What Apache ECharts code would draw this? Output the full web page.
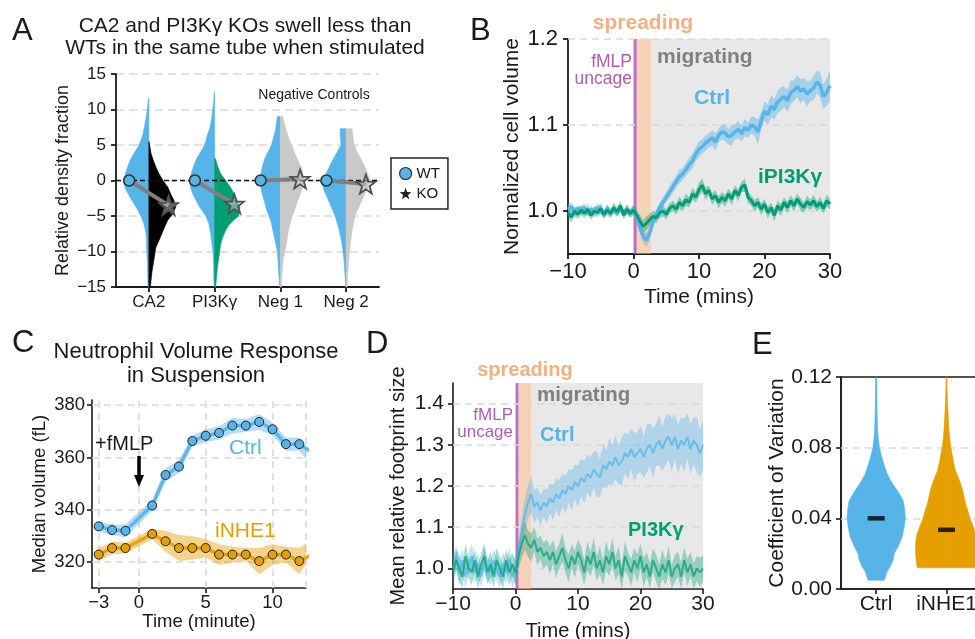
<!DOCTYPE html>
<html><head><meta charset="utf-8">
<script src="https://cdn.jsdelivr.net/npm/echarts@6.0.0/dist/echarts.min.js"></script>
<style>html,body{margin:0;padding:0;background:#fff}#c{width:975px;height:639px}</style>
</head><body><div id="c"></div>
<script>
// ---------------- Panel A data ----------------
const catsA = ['CA2', 'PI3Kγ', 'Neg 1', 'Neg 2'];
const wtMarkY = [0, 0, 0, 0];
const koMarkY = [-3.5, -3.3, 0.2, -0.5];
const ca2WtY = [11.6, 10, 8.9, 7.5, 6.5, 5.5, 4.7, 3.8, 2.8, 2, 1, 0, -1, -1.8, -2.8, -3.7, -5, -6, -7.4, -9, -10.2, -12.5, -15];
const ca2WtD = [0.01, 0.06, 0.10, 0.17, 0.22, 0.31, 0.41, 0.56, 0.70, 0.78, 0.87, 0.93, 0.89, 0.78, 0.63, 0.48, 0.30, 0.19, 0.11, 0.085, 0.074, 0.048, 0.03];
const ca2KoY = [5.5, 4.7, 3.75, 2.8, 1.9, 1, 0, -0.9, -1.9, -2.8, -3.7, -4.7, -5.6, -6.5, -7.5, -8.5, -9.4, -11.2, -13, -15];
const ca2KoD = [0, 0.04, 0.085, 0.17, 0.26, 0.37, 0.52, 0.70, 0.81, 0.93, 1.0, 0.89, 0.70, 0.59, 0.48, 0.37, 0.26, 0.185, 0.11, 0.055];
const pi3WtY = [12.5, 11, 9, 7.5, 6.5, 5.5, 4.7, 3.8, 2.8, 2, 1, 0, -1, -1.9, -2.8, -3.7, -5, -6, -7.5, -10, -12.5, -15];
const pi3WtD = [0.01, 0.04, 0.10, 0.17, 0.26, 0.33, 0.41, 0.56, 0.70, 0.78, 0.87, 0.93, 0.89, 0.81, 0.69, 0.56, 0.33, 0.22, 0.15, 0.063, 0.037, 0.019];
const pi3KoY = [3.2, 3, 2, 1, 0, -1, -2, -3, -3.8, -5, -5.6, -6.3, -7, -8, -9, -10.5, -12, -13.5, -15];
const pi3KoD = [0, 0.04, 0.11, 0.22, 0.41, 0.59, 0.74, 0.85, 0.93, 0.89, 0.70, 0.52, 0.41, 0.30, 0.22, 0.17, 0.11, 0.074, 0.037];
const neg1WtY = [9, 8, 7, 6, 5, 4, 3, 1.5, 0, -1, -2, -3, -4, -5, -6, -7, -8, -9, -10, -11.5, -13, -15];
const neg1WtD = [0.11, 0.15, 0.185, 0.26, 0.33, 0.46, 0.59, 0.70, 0.74, 0.72, 0.67, 0.59, 0.52, 0.43, 0.33, 0.28, 0.22, 0.17, 0.11, 0.085, 0.063, 0.019];
const neg1KoY = [9, 8, 7, 6, 5, 4, 3, 1.5, 0, -1.5, -3, -4, -5, -6, -7, -8, -9, -10, -11, -13, -15];
const neg1KoD = [0.085, 0.15, 0.22, 0.31, 0.41, 0.52, 0.63, 0.81, 0.89, 0.78, 0.63, 0.54, 0.44, 0.37, 0.30, 0.26, 0.22, 0.17, 0.11, 0.063, 0.037];
const neg2WtY = [7.3, 6.5, 5.5, 5, 4, 3, 2.2, 1.5, 0.7, 0, -0.7, -1.5, -3, -4, -5, -6, -7, -8, -9, -11, -13, -15];
const neg2WtD = [0.22, 0.22, 0.20, 0.185, 0.33, 0.48, 0.59, 0.67, 0.78, 0.89, 0.87, 0.81, 0.63, 0.52, 0.41, 0.33, 0.26, 0.20, 0.15, 0.085, 0.048, 0.019];
const neg2KoY = [7.3, 6, 5, 4, 3, 1.5, 0, -1.5, -3, -4, -5, -6, -7, -9, -11, -13, -15];
const neg2KoD = [0.22, 0.26, 0.30, 0.41, 0.56, 0.74, 0.89, 0.74, 0.56, 0.44, 0.33, 0.28, 0.22, 0.15, 0.10, 0.063, 0.037];

// ---------------- Panel B data ----------------
const timeBD = [-10,-9.5,-9,-8.5,-8,-7.5,-7,-6.5,-6,-5.5,-5,-4.5,-4,-3.5,-3,-2.5,-2,-1.5,-1,-0.5,0,0.5,1,1.5,2,2.5,3,3.5,4,4.5,5,5.5,6,6.5,7,7.5,8,8.5,9,9.5,10,10.5,11,11.5,12,12.5,13,13.5,14,14.5,15,15.5,16,16.5,17,17.5,18,18.5,19,19.5,20,20.5,21,21.5,22,22.5,23,23.5,24,24.5,25,25.5,26,26.5,27,27.5,28,28.5,29,29.5,30];
const bCtrl = [1.002,1.005,0.998,1.003,1.000,1.004,0.997,1.002,0.999,1.004,1.001,0.996,1.003,0.998,1.002,0.997,1.003,0.999,1.001,0.998,1.002,
  0.992,0.980,0.970,0.966,0.975,0.988,0.996,1.004,1.010,1.016,1.022,1.028,1.034,1.040,1.043,1.048,1.054,1.058,1.066,1.072,
  1.075,1.079,1.082,1.085,1.080,1.088,1.092,1.091,1.086,1.088,1.092,1.095,1.090,1.097,1.094,1.100,1.098,1.092,1.105,1.116,
  1.112,1.122,1.118,1.127,1.130,1.133,1.128,1.138,1.140,1.145,1.139,1.142,1.136,1.140,1.143,1.150,1.146,1.133,1.138,1.146];
const bCtrlErr = [0.006,0.005,0.005,0.004,0.005,0.005,0.004,0.005,0.004,0.005,0.005,0.004,0.005,0.004,0.005,0.004,0.005,0.004,0.005,0.004,0.005,
  0.005,0.006,0.007,0.008,0.007,0.006,0.006,0.006,0.006,0.006,0.007,0.007,0.007,0.008,0.007,0.008,0.008,0.009,0.008,0.009,
  0.008,0.009,0.008,0.009,0.010,0.008,0.009,0.010,0.009,0.012,0.009,0.010,0.009,0.010,0.009,0.010,0.011,0.014,0.010,0.011,
  0.012,0.013,0.012,0.013,0.014,0.012,0.013,0.014,0.012,0.013,0.014,0.013,0.015,0.012,0.014,0.013,0.015,0.014,0.016,0.018];
const bGreen = [0.998,0.993,1.000,0.996,1.001,0.997,1.002,0.995,1.000,0.998,1.003,0.996,1.001,0.997,1.004,0.999,1.006,0.995,1.002,0.997,1.001,
  0.995,0.988,0.982,0.986,0.990,0.994,0.992,0.998,1.000,0.996,1.003,1.006,1.002,1.010,1.006,1.013,1.010,1.020,1.016,1.025,
  1.030,1.020,1.024,1.014,1.018,1.010,1.016,1.012,1.020,1.014,1.024,1.018,1.028,1.030,1.016,1.012,1.006,1.010,1.002,1.008,
  0.998,1.004,0.995,1.006,1.001,1.010,1.004,1.012,1.006,1.014,1.008,1.004,1.011,1.007,1.012,1.005,1.010,1.003,1.012,1.008];
const bGreenErr = [0.007,0.006,0.006,0.005,0.006,0.005,0.006,0.005,0.006,0.005,0.006,0.005,0.006,0.005,0.006,0.005,0.006,0.005,0.006,0.005,0.006,
  0.006,0.007,0.007,0.008,0.007,0.006,0.006,0.006,0.006,0.006,0.006,0.006,0.006,0.007,0.006,0.007,0.006,0.007,0.006,0.008,
  0.008,0.007,0.006,0.007,0.006,0.007,0.006,0.007,0.006,0.007,0.006,0.007,0.006,0.008,0.007,0.006,0.007,0.006,0.007,0.006,
  0.007,0.006,0.007,0.006,0.007,0.006,0.007,0.006,0.007,0.006,0.007,0.006,0.007,0.006,0.007,0.006,0.007,0.006,0.007,0.006];
const phaseB = [0, 0.5, 2.65, 30];
const bTicksY = [1.0, 1.1, 1.2];

// ---------------- Panel C data ----------------
const cTime = [-3, -2, -1, 1, 2, 3, 4, 5, 6, 7, 8, 9, 10, 11, 12, 13];
const cCtrl = [333.6, 332.2, 331.9, 341.6, 353.3, 356.5, 366.3, 368.3, 369.4, 372.2, 372.2, 373.6, 370.8, 365.1, 365.1, 361.8];
const cCtrlErr = [2.0, 2.0, 2.5, 2.0, 2.5, 2.5, 2.0, 2.5, 2.5, 3.0, 2.5, 3.0, 2.5, 2.5, 2.5, 2.5];
const cNhe = [322.8, 325.3, 325.3, 330.7, 327.9, 325.3, 325.3, 325.3, 322.8, 322.8, 322.8, 320.3, 322.8, 322.8, 320.3, 323.0];
const cNheErr = [2.5, 2.5, 2.0, 2.0, 4.0, 5.0, 4.5, 3.5, 4.0, 3.0, 2.5, 5.0, 4.0, 3.0, 5.0, 4.0];
const cTicksX = [-3, 0, 5, 10];
const cGridX = [-3, 0, 5, 10, 12.5];
const cTicksY = [320, 340, 360, 380];

// ---------------- Panel D data ----------------
const dCtrl = [1.00,1.03,0.99,1.02,0.98,1.01,1.03,0.99,1.01,0.98,1.02,1.00,0.99,1.02,1.00,0.98,1.01,0.99,1.02,0.98,1.00,
  1.04,1.09,1.13,1.16,1.18,1.15,1.16,1.14,1.16,1.15,1.17,1.16,1.18,1.17,1.19,1.18,1.20,1.19,1.21,1.20,
  1.22,1.21,1.23,1.22,1.24,1.23,1.22,1.25,1.24,1.26,1.25,1.27,1.25,1.26,1.28,1.27,1.29,1.27,1.28,1.29,
  1.27,1.29,1.30,1.28,1.30,1.31,1.29,1.31,1.32,1.30,1.32,1.29,1.31,1.30,1.32,1.29,1.31,1.30,1.28,1.30];
const dCtrlErr = [0.030,0.025,0.032,0.028,0.030,0.026,0.031,0.027,0.030,0.025,0.032,0.028,0.030,0.026,0.031,0.027,0.030,0.025,0.032,0.028,0.030,
  0.030,0.035,0.040,0.040,0.045,0.040,0.035,0.038,0.034,0.040,0.036,0.042,0.038,0.044,0.040,0.046,0.041,0.048,0.042,0.050,
  0.045,0.052,0.046,0.050,0.044,0.055,0.047,0.052,0.046,0.056,0.048,0.054,0.047,0.058,0.050,0.055,0.049,0.060,0.050,0.056,
  0.050,0.058,0.052,0.060,0.051,0.062,0.053,0.060,0.055,0.065,0.054,0.060,0.056,0.064,0.055,0.062,0.057,0.066,0.058,0.062];
const dGreen = [0.99,1.02,1.00,0.98,1.03,1.00,0.99,1.02,0.98,1.01,1.03,0.99,1.01,0.98,1.02,1.00,0.98,1.02,0.99,1.01,0.99,
  1.03,1.06,1.08,1.06,1.05,1.07,1.04,1.05,1.03,1.04,1.02,1.04,1.01,1.03,1.05,1.02,1.00,1.03,1.01,1.04,
  1.02,0.99,1.03,1.01,1.04,1.00,1.02,0.99,1.03,1.01,1.04,1.00,1.02,0.98,1.03,1.01,0.99,1.02,1.00,1.03,
  0.99,1.01,0.98,1.02,1.00,0.98,1.01,0.99,1.02,0.98,1.00,1.01,0.98,1.02,0.99,1.01,0.98,1.00,0.99,1.00];
const dGreenErr = [0.030,0.026,0.032,0.028,0.030,0.025,0.031,0.027,0.030,0.026,0.032,0.028,0.030,0.025,0.031,0.027,0.030,0.026,0.032,0.028,0.030,
  0.030,0.035,0.035,0.032,0.034,0.030,0.033,0.029,0.032,0.030,0.034,0.029,0.033,0.030,0.035,0.030,0.034,0.029,0.033,0.030,
  0.034,0.030,0.035,0.029,0.033,0.030,0.034,0.030,0.035,0.029,0.033,0.030,0.034,0.030,0.035,0.029,0.033,0.030,0.034,0.030,
  0.035,0.030,0.034,0.029,0.033,0.030,0.035,0.030,0.034,0.029,0.033,0.030,0.035,0.030,0.034,0.029,0.033,0.030,0.035,0.032];
const phaseD = [0, 0.5, 2.5, 30];
const dTicksY = [1.0, 1.1, 1.2, 1.3, 1.4];

// ---------------- Panel E data ----------------
const catsE = ['Ctrl', 'iNHE1', ''];
const eCtrlY = [0.005,0.01,0.0128,0.0165,0.02,0.024,0.0297,0.035,0.04,0.045,0.05,0.055,0.06,0.065,0.07,0.075,0.08,0.085,0.09,0.1,0.11,0.12];
const eCtrlD = [0.27,0.37,0.47,0.57,0.60,0.73,0.87,0.93,0.97,0.95,0.90,0.73,0.53,0.37,0.27,0.18,0.11,0.073,0.05,0.033,0.023,0.01];
const eNheY = [0.012,0.015,0.02,0.025,0.03,0.035,0.039,0.045,0.0485,0.055,0.058,0.062,0.067,0.072,0.077,0.082,0.09,0.1,0.11,0.12];
const eNheD = [0.97,1.0,1.03,1.03,1.0,0.90,0.80,0.70,0.63,0.55,0.50,0.42,0.30,0.23,0.18,0.127,0.083,0.05,0.027,0.01];
const eMedians = [0.040, 0.0335];
const eTicksY = [0, 0.04, 0.08, 0.12];
const eGridY = [0.04, 0.08];

// ---------------- styling ----------------
const FONT = '"Liberation Sans", Arial, Helvetica, sans-serif';
const INK = '#1a1a1a';
const BLUE = '#56B4E9', GREEN = '#009E73', ORANGE = '#E69F00';
const PURPLE = '#B05CB5';
const STAR = 'path://M0,-10L2.35,-3.24L9.51,-3.09L3.8,1.24L5.88,8.09L0,4L-5.88,8.09L-3.8,1.24L-9.51,-3.09L-2.35,-3.24Z';

const halvesA = [
  {cat:0, side:-1, y:ca2WtY, d:ca2WtD, color:BLUE},
  {cat:0, side:1, y:ca2KoY, d:ca2KoD, color:'#000000'},
  {cat:1, side:-1, y:pi3WtY, d:pi3WtD, color:BLUE},
  {cat:1, side:1, y:pi3KoY, d:pi3KoD, color:GREEN},
  {cat:2, side:-1, y:neg1WtY, d:neg1WtD, color:BLUE},
  {cat:2, side:1, y:neg1KoY, d:neg1KoD, color:'#c9c9c9'},
  {cat:3, side:-1, y:neg2WtY, d:neg2WtD, color:BLUE},
  {cat:3, side:1, y:neg2KoY, d:neg2KoD, color:'#c9c9c9'}
];
const halvesE = [
  {cat:0, side:-1, y:eCtrlY, d:eCtrlD, color:BLUE},
  {cat:0, side:1, y:eCtrlY, d:eCtrlD, color:BLUE},
  {cat:1, side:-1, y:eNheY, d:eNheD, color:ORANGE},
  {cat:1, side:1, y:eNheY, d:eNheD, color:ORANGE}
];

function violinRenderer(halves, frac) {
  return function (params, api) {
    const h = halves[api.value(2)];
    const s = api.size([1, 0])[0] * frac;
    const n = h.y.length;
    const pts = [];
    const top = api.coord([h.cat, h.y[0]]);
    pts.push([top[0], top[1]]);
    for (let i = 0; i < n; i++) {
      const p = api.coord([h.cat, h.y[i]]);
      pts.push([p[0] + h.side * h.d[i] * s, p[1]]);
    }
    const bot = api.coord([h.cat, h.y[n - 1]]);
    pts.push([bot[0], bot[1]]);
    return {type:'polygon', shape:{points:pts}, style:{fill:h.color, stroke:h.color, lineWidth:0.6}};
  };
}
function bandRenderer(t, v, e, color) {
  return function (params, api) {
    const cs = params.coordSys;
    const cx = x => Math.max(cs.x, Math.min(cs.x + cs.width, x));
    const cy = y => Math.max(cs.y, Math.min(cs.y + cs.height, y));
    const up = [], lo = [];
    for (let i = 0; i < t.length; i++) {
      const a = api.coord([t[i], v[i] + e[i]]);
      const b = api.coord([t[i], v[i] - e[i]]);
      up.push([cx(a[0]), cy(a[1])]);
      lo.push([cx(b[0]), cy(b[1])]);
    }
    return {type:'polygon', shape:{points:up.concat(lo.reverse())}, style:{fill:color}};
  };
}
const minusFmt = v => (v < 0 ? '\u2212' + Math.abs(v) : String(v));

function axisBase(fs, margin, lw) {
  return {
    axisLine:{show:true, onZero:false, lineStyle:{color:INK, width:lw || 1.7}},
    axisTick:{show:true, length:5, inside:false, lineStyle:{color:INK, width:lw || 1.5}},
    axisLabel:{show:true, color:INK, fontSize:fs, fontFamily:FONT, margin:margin},
    splitLine:{show:false},
    nameTextStyle:{color:INK, fontFamily:FONT}
  };
}
function mergeAxis(base, extra) {
  const o = Object.assign({}, base, extra);
  ['axisLine','axisTick','axisLabel','splitLine','nameTextStyle'].forEach(k => {
    if (extra[k]) o[k] = Object.assign({}, base[k], extra[k]);
  });
  return o;
}

const grids = [
  {left:116, top:74, width:263, height:213},
  {left:568, top:39, width:262, height:215},
  {left:92, top:400, width:214, height:188},
  {left:453, top:383, width:250, height:206},
  {left:841, top:377, width:211, height:212, show:true, borderColor:INK, borderWidth:1.6, backgroundColor:'rgba(0,0,0,0)'}
].map(g => Object.assign({containLabel:false, outerBoundsMode:'none'}, g));

const xAxes = [
  mergeAxis(axisBase(17, 7, 1.8), {gridIndex:0, type:'category', data:catsA, boundaryGap:true, axisTick:{alignWithLabel:true, interval:0}, axisLabel:{interval:0}}),
  {gridIndex:0, type:'value', min:-0.5, max:3.5, show:false},
  mergeAxis(axisBase(22, 7, 1.8), {gridIndex:1, type:'value', min:-10, max:30, interval:10, axisLabel:{formatter:minusFmt}, name:'Time (mins)', nameLocation:'middle', nameGap:33, nameTextStyle:{fontSize:21}}),
  mergeAxis(axisBase(18.5, 5, 1.6), {gridIndex:2, type:'value', min:-3.5, max:12.5, axisLabel:{customValues:cTicksX, formatter:minusFmt}, axisTick:{customValues:cTicksX}, name:'Time (minute)', nameLocation:'middle', nameGap:24, nameTextStyle:{fontSize:18.5}}),
  mergeAxis(axisBase(21, 5, 1.6), {gridIndex:3, type:'value', min:-10, max:30, interval:10, axisLabel:{formatter:minusFmt}, name:'Time (mins)', nameLocation:'middle', nameGap:32, nameTextStyle:{fontSize:20}}),
  mergeAxis(axisBase(21, 5, 1.6), {gridIndex:4, type:'category', data:catsE, boundaryGap:true, axisTick:{alignWithLabel:true, interval:0}, axisLabel:{interval:0}})
];
const yAxes = [
  mergeAxis(axisBase(17, 10, 1.8), {gridIndex:0, type:'value', min:-15, max:15, interval:5, axisLabel:{formatter:minusFmt}, splitLine:{show:true, lineStyle:{color:'#e2e2e2', width:2, type:[8,5]}}, name:'Relative density fraction', nameLocation:'middle', nameGap:44, nameTextStyle:{fontSize:18}}),
  mergeAxis(axisBase(22, 10, 1.8), {gridIndex:1, type:'value', min:0.95, max:1.2, axisLabel:{customValues:bTicksY, formatter:v => v.toFixed(1)}, axisTick:{customValues:bTicksY}, name:'Normalized cell volume', nameLocation:'middle', nameGap:45, nameTextStyle:{fontSize:21}}),
  mergeAxis(axisBase(18.5, 7, 1.6), {gridIndex:2, type:'value', min:310, max:382, axisLabel:{customValues:cTicksY}, axisTick:{customValues:cTicksY}, name:'Median volume (fL)', nameLocation:'middle', nameGap:43, nameTextStyle:{fontSize:18.5}}),
  mergeAxis(axisBase(21, 9, 1.6), {gridIndex:3, type:'value', min:0.95, max:1.45, axisLabel:{customValues:dTicksY, formatter:v => v.toFixed(1)}, axisTick:{customValues:dTicksY}, name:'Mean relative footprint size', nameLocation:'middle', nameGap:45, nameTextStyle:{fontSize:20}}),
  mergeAxis(axisBase(21, 9, 1.6), {gridIndex:4, type:'value', min:0, max:0.12, axisLabel:{customValues:eTicksY, formatter:v => v.toFixed(2)}, axisTick:{customValues:eTicksY}, name:'Coefficient of Variation', nameLocation:'middle', nameGap:53, nameTextStyle:{fontSize:21}})
];

const gridLineStyle = {type:[7,5], color:'#dadada', width:1.6};
function lineS(xi, yi, t, v, color, width, z, extra) {
  return Object.assign({type:'line', xAxisIndex:xi, yAxisIndex:yi, data:t.map((x, i) => [x, v[i]]),
    symbol:'none', showSymbol:false, lineStyle:{color:color, width:width}, itemStyle:{color:color}, z:z, silent:true, clip:true}, extra || {});
}
function phaseArea(ph) {
  return {silent:true, z:1, data:[
    [{xAxis:ph[0], itemStyle:{color:'rgba(176,92,181,0.85)'}}, {xAxis:ph[1]}],
    [{xAxis:ph[1], itemStyle:{color:'rgba(240,180,135,0.6)'}}, {xAxis:ph[2]}],
    [{xAxis:ph[2], itemStyle:{color:'rgba(150,150,150,0.22)'}}, {xAxis:ph[3]}]
  ]};
}
function gridMarks(list) {
  return {silent:true, z:2, symbol:['none','none'], label:{show:false}, lineStyle:gridLineStyle, data:list};
}

const series = [];
// ---- A ----
series.push({type:'custom', xAxisIndex:0, yAxisIndex:0, renderItem:violinRenderer(halvesA, 0.41),
  data:halvesA.map((h, i) => [h.cat, 0, i]), encode:{x:0, y:1}, z:2, silent:true});
series.push({type:'line', xAxisIndex:1, yAxisIndex:0, data:[], z:3, silent:true,
  markLine:{silent:true, z:3, symbol:['none','none'], label:{show:false}, lineStyle:{type:[5,3], color:'#111', width:1.3}, data:[{yAxis:0}]}});
catsA.forEach((c, i) => {
  series.push({type:'line', xAxisIndex:1, yAxisIndex:0, data:[[i - 0.3, wtMarkY[i]], [i + 0.3, koMarkY[i]]],
    symbol:'none', lineStyle:{color:'#808080', width:4}, z:4, silent:true});
});
series.push({name:'WT', type:'scatter', xAxisIndex:1, yAxisIndex:0, data:catsA.map((c, i) => [i - 0.3, wtMarkY[i]]),
  symbol:'circle', symbolSize:11, itemStyle:{color:BLUE, borderColor:'#333', borderWidth:1.5, opacity:1}, z:5, silent:true});
series.push({name:'KO', type:'scatter', xAxisIndex:1, yAxisIndex:0, data:catsA.map((c, i) => [i + 0.3, koMarkY[i]]),
  symbol:STAR, symbolSize:19, itemStyle:{color:'rgba(200,200,200,0.5)', borderColor:'#505050', borderWidth:1.8, opacity:1}, z:5, silent:true});

// ---- B ----
series.push(lineS(2, 1, timeBD, bCtrl, 'rgba(0,0,0,0)', 0, 1, {lineStyle:{opacity:0}, markArea:phaseArea(phaseB)}));
series.push(lineS(2, 1, timeBD, bCtrl, 'rgba(0,0,0,0)', 0, 1, {lineStyle:{opacity:0}, markLine:gridMarks(bTicksY.map(v => ({yAxis:v})))}));
series.push({type:'custom', xAxisIndex:2, yAxisIndex:1, clip:true, renderItem:bandRenderer(timeBD, bCtrl, bCtrlErr, 'rgba(86,180,233,0.45)'), data:[[0, 1]], encode:{x:0, y:1}, z:3, silent:true});
series.push({type:'custom', xAxisIndex:2, yAxisIndex:1, clip:true, renderItem:bandRenderer(timeBD, bGreen, bGreenErr, 'rgba(0,158,115,0.4)'), data:[[0, 1]], encode:{x:0, y:1}, z:3, silent:true});
series.push(lineS(2, 1, timeBD, bCtrl, BLUE, 3.5, 4));
series.push(lineS(2, 1, timeBD, bGreen, GREEN, 3, 5));

// ---- C ----
series.push(lineS(3, 2, cTime, cCtrl, 'rgba(0,0,0,0)', 0, 1, {lineStyle:{opacity:0},
  markLine:gridMarks(cTicksY.map(v => ({yAxis:v})).concat(cGridX.map(v => ({xAxis:v}))))}));
series.push({type:'custom', xAxisIndex:3, yAxisIndex:2, clip:true, renderItem:bandRenderer(cTime, cCtrl, cCtrlErr, 'rgba(86,180,233,0.45)'), data:[[0, 340]], encode:{x:0, y:1}, z:3, silent:true});
series.push({type:'custom', xAxisIndex:3, yAxisIndex:2, clip:true, renderItem:bandRenderer(cTime, cNhe, cNheErr, 'rgba(230,159,0,0.45)'), data:[[0, 320]], encode:{x:0, y:1}, z:3, silent:true});
series.push(lineS(3, 2, cTime, cCtrl, 'rgba(86,180,233,0.9)', 3.5, 4, {symbol:'circle', showSymbol:true, symbolSize:9,
  itemStyle:{color:BLUE, borderColor:'#222', borderWidth:1}}));
series.push(lineS(3, 2, cTime, cNhe, 'rgba(230,159,0,0.9)', 3.5, 4, {symbol:'circle', showSymbol:true, symbolSize:9,
  itemStyle:{color:ORANGE, borderColor:'#222', borderWidth:1}}));

// ---- D ----
series.push(lineS(4, 3, timeBD, dCtrl, 'rgba(0,0,0,0)', 0, 1, {lineStyle:{opacity:0}, markArea:phaseArea(phaseD)}));
series.push(lineS(4, 3, timeBD, dCtrl, 'rgba(0,0,0,0)', 0, 1, {lineStyle:{opacity:0}, markLine:gridMarks(dTicksY.map(v => ({yAxis:v})))}));
series.push({type:'custom', xAxisIndex:4, yAxisIndex:3, clip:true, renderItem:bandRenderer(timeBD, dCtrl, dCtrlErr, 'rgba(86,180,233,0.38)'), data:[[0, 1]], encode:{x:0, y:1}, z:3, silent:true});
series.push({type:'custom', xAxisIndex:4, yAxisIndex:3, clip:true, renderItem:bandRenderer(timeBD, dGreen, dGreenErr, 'rgba(0,158,115,0.35)'), data:[[0, 1]], encode:{x:0, y:1}, z:3, silent:true});
series.push(lineS(4, 3, timeBD, dCtrl, 'rgba(86,180,233,0.75)', 2, 4));
series.push(lineS(4, 3, timeBD, dGreen, 'rgba(0,158,115,0.7)', 2, 5));

// ---- E ----
series.push({type:'line', xAxisIndex:5, yAxisIndex:4, data:[], z:1, silent:true, markLine:gridMarks(eGridY.map(v => ({yAxis:v})))});
series.push({type:'custom', xAxisIndex:5, yAxisIndex:4, renderItem:violinRenderer(halvesE, 0.427),
  data:halvesE.map((h, i) => [h.cat, 0, i]), encode:{x:0, y:1}, z:2, silent:true});
series.push({type:'scatter', xAxisIndex:5, yAxisIndex:4, data:eMedians.map((m, i) => [i, m]), symbol:'rect', symbolSize:[17, 4.5],
  itemStyle:{color:'#000'}, z:4, silent:true});

// ---------------- annotations ----------------
function txt(x, y, text, size, color, align, weight) {
  return {type:'text', x:x, y:y, z:100, silent:true, style:{text:text, fill:color || INK,
    font:(weight || 'normal') + ' ' + size + 'px ' + FONT, textAlign:align || 'left', align:align || 'left',
    textVerticalAlign:'middle', verticalAlign:'middle'}};
}
const graphics = [
  txt(12, 31, 'A', 31),
  txt(245, 26, 'CA2 and PI3Kγ KOs swell less than', 21, INK, 'center'),
  txt(245, 48, 'WTs in the same tube when stimulated', 21, INK, 'center'),
  txt(314, 95, 'Negative Controls', 14, INK, 'center'),
  txt(470, 31, 'B', 31),
  txt(643, 23.5, 'spreading', 21, '#F2B183', 'center', 'bold'),
  txt(632, 62, 'fMLP', 17.5, PURPLE, 'right'),
  txt(632, 79, 'uncage', 17.5, PURPLE, 'right'),
  txt(657, 57.5, 'migrating', 21, '#808080', 'left', 'bold'),
  txt(694, 98.5, 'Ctrl', 21, BLUE, 'left', 'bold'),
  txt(758, 177, 'iPI3Kγ', 21, GREEN, 'left', 'bold'),
  txt(12, 343.5, 'C', 31),
  txt(196, 352, 'Neutrophil Volume Response', 22, INK, 'center'),
  txt(196, 375.5, 'in Suspension', 22, INK, 'center'),
  txt(95, 444.5, '+fMLP', 20),
  {type:'line', z:100, silent:true, shape:{x1:139, y1:456, x2:139, y2:477}, style:{stroke:'#000', lineWidth:3.5}},
  {type:'polygon', z:100, silent:true, shape:{points:[[134, 475], [144, 475], [139, 487]]}, style:{fill:'#000'}},
  txt(229, 448.5, 'Ctrl', 21, BLUE),
  txt(215, 531, 'iNHE1', 21, ORANGE),
  txt(366, 344, 'D', 31),
  txt(525, 370.5, 'spreading', 20, '#F2B183', 'center', 'bold'),
  txt(513, 415.5, 'fMLP', 17, PURPLE, 'right'),
  txt(513, 432.5, 'uncage', 17, PURPLE, 'right'),
  txt(537, 395, 'migrating', 20.5, '#808080', 'left', 'bold'),
  txt(540, 435, 'Ctrl', 20, BLUE, 'left', 'bold'),
  txt(628, 530, 'PI3Kγ', 20, GREEN, 'left', 'bold'),
  txt(752, 345, 'E', 31)
];

const chart = echarts.init(document.getElementById('c'), null, {renderer:'canvas'});
chart.setOption({
  animation:false,
  backgroundColor:'#ffffff',
  textStyle:{fontFamily:FONT},
  grid:grids,
  xAxis:xAxes,
  yAxis:yAxes,
  legend:{left:391, top:158, orient:'vertical', padding:[8, 8, 8, 8], itemGap:5, itemWidth:12, itemHeight:12,
    borderColor:'#222', borderWidth:1.5, borderRadius:0, backgroundColor:'#fff', selectedMode:false,
    textStyle:{fontSize:15, color:INK, fontFamily:FONT},
    data:[{name:'WT', icon:'circle', itemStyle:{color:BLUE, borderColor:'#333', borderWidth:1.2}},
          {name:'KO', icon:STAR, itemStyle:{color:'#222', borderWidth:0}}]},
  series:series,
  graphic:{elements:graphics}
});
</script>
</body></html>
